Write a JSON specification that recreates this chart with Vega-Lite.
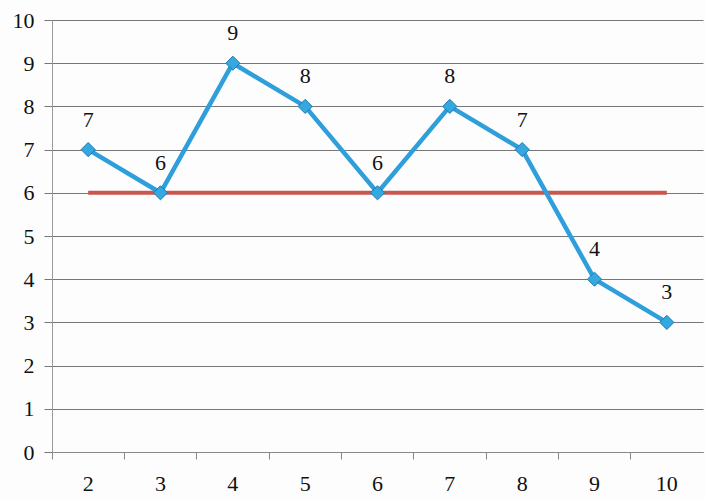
{
  "$schema": "https://vega.github.io/schema/vega-lite/v6.json",
  "width": 651,
  "height": 432,
  "padding": {"left": 52, "top": 20, "right": 2, "bottom": 49},
  "autosize": {"type": "none"},
  "background": "#fdfdfd",
  "config": {"view": {"stroke": null}},
  "data": {"values": [
    {"x": "2", "value": 7, "target": 6},
    {"x": "3", "value": 6, "target": 6},
    {"x": "4", "value": 9, "target": 6},
    {"x": "5", "value": 8, "target": 6},
    {"x": "6", "value": 6, "target": 6},
    {"x": "7", "value": 8, "target": 6},
    {"x": "8", "value": 7, "target": 6},
    {"x": "9", "value": 4, "target": 6},
    {"x": "10", "value": 3, "target": 6}
  ]},
  "encoding": {
    "x": {"field": "x", "type": "ordinal", "sort": null,
      "scale": {"type": "band", "paddingInner": 0, "paddingOuter": 0},
      "axis": {"title": null, "labelAngle": 0, "bandPosition": 0, "labelFont": "Times New Roman, Liberation Serif, DejaVu Serif, serif", "labelFontSize": 22, "labelColor": "#111", "labelPadding": 14, "domainColor": "#888", "tickColor": "#888", "tickSize": 7, "grid": false, "labelBound": false, "labelOverlap": false}}
  },
  "layer": [
    {
      "mark": {"type": "line", "color": "#C8574E", "strokeWidth": 4},
      "encoding": {"y": {"field": "target", "type": "quantitative"}}
    },
    {
      "mark": {"type": "line", "color": "#2E9FDB", "strokeWidth": 4.5, "point": {"shape": "diamond", "size": 200, "filled": true, "fill": "#35A8E0", "stroke": "#1E78B4", "strokeWidth": 1}},
      "encoding": {"y": {"field": "value", "type": "quantitative",
        "scale": {"domain": [0, 10]},
        "axis": {"title": null, "values": [0,1,2,3,4,5,6,7,8,9,10], "grid": true, "gridColor": "#777", "gridWidth": 1, "domainColor": "#999", "tickColor": "#777", "tickSize": 8, "labelFont": "Times New Roman, Liberation Serif, DejaVu Serif, serif", "labelFontSize": 22, "labelColor": "#111", "labelPadding": 10}}}
    },
    {
      "mark": {"type": "text", "dy": -30, "font": "Times New Roman, Liberation Serif, DejaVu Serif, serif", "fontSize": 22, "color": "#111"},
      "encoding": {"y": {"field": "value", "type": "quantitative"}, "text": {"field": "value", "type": "quantitative"}}
    }
  ]
}
